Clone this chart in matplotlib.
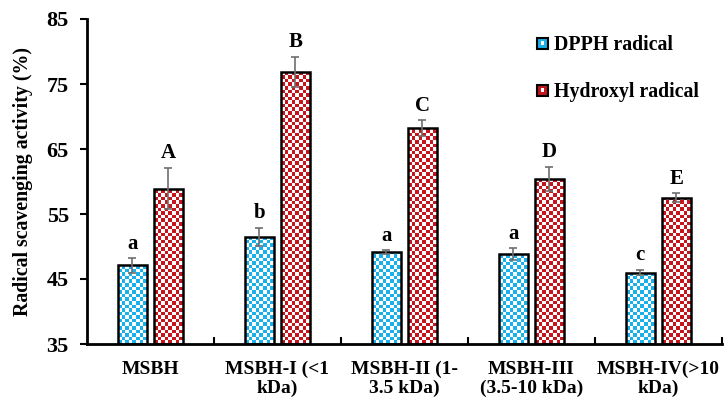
import numpy as np
import matplotlib.pyplot as plt
from matplotlib.patches import Rectangle
from matplotlib.legend_handler import HandlerBase

plt.rcParams['font.family'] = ['Liberation Serif', 'DejaVu Serif']
plt.rcParams['font.weight'] = 'bold'

categories = ["MSBH", "MSBH-I (<1\nkDa)", "MSBH-II (1-\n3.5 kDa)",
              "MSBH-III\n(3.5-10 kDa)", "MSBH-IV(>10\nkDa)"]
dpph = [47.1, 51.5, 49.1, 48.8, 46.0]
dpph_err = [1.1, 1.4, 0.3, 0.9, 0.4]
dpph_letters = ["a", "b", "a", "a", "c"]
hydroxyl = [58.9, 76.9, 68.2, 60.4, 57.5]
hydroxyl_err = [3.2, 2.3, 1.2, 1.9, 0.7]
hydroxyl_letters = ["A", "B", "C", "D", "E"]

blue = "#1ab0ea"
red = "#c4161c"


def checker(ax, bar, color, ncols=8, cell_h=0.55):
    x0, y0 = bar.get_x(), bar.get_y()
    w, h = bar.get_width(), bar.get_height()
    nrows = int(np.ceil(h / cell_h))
    i, j = np.indices((nrows, ncols))
    img = np.ones((nrows, ncols, 3))
    rgb = np.array(plt.matplotlib.colors.to_rgb(color))
    img[(i + j) % 2 == 0] = rgb
    im = ax.imshow(img, extent=(x0, x0 + w, y0, y0 + nrows * cell_h),
                   origin="lower", interpolation="nearest", aspect="auto", zorder=2)
    im.set_clip_path(bar)


class CheckerHandler(HandlerBase):
    def __init__(self, color):
        super().__init__()
        self.color = color

    def create_artists(self, legend, orig_handle, xdescent, ydescent,
                       width, height, fontsize, trans):
        s = height * 0.8
        x0 = -xdescent + (width - s) / 2
        y0 = -ydescent + (height - s) / 2
        outer = Rectangle((x0, y0), s, s, facecolor=self.color,
                          edgecolor="black", lw=1.5, transform=trans)
        inner = Rectangle((x0 + s * 0.33, y0 + s * 0.33), s * 0.34, s * 0.34,
                          facecolor="white", edgecolor="none", transform=trans)
        return [outer, inner]


fig = plt.figure(figsize=(7.24, 4.0), dpi=100)
ax = fig.add_axes([0.120, 0.14, 0.877, 0.8125])

x = np.arange(len(categories))
width = 0.228
off = 0.142

bars1 = ax.bar(x - off, np.array(dpph) - 35, width, bottom=35, facecolor="none",
               edgecolor="black", lw=1.8, zorder=3)
bars2 = ax.bar(x + off, np.array(hydroxyl) - 35, width, bottom=35, facecolor="none",
               edgecolor="black", lw=1.8, zorder=3)
for b in bars1:
    checker(ax, b, blue)
for b in bars2:
    checker(ax, b, red)

ax.errorbar(x - off, dpph, yerr=dpph_err, fmt="none", ecolor="#6e6e6e",
            elinewidth=1.2, capsize=3, capthick=1.2, zorder=4)
ax.errorbar(x + off, hydroxyl, yerr=hydroxyl_err, fmt="none", ecolor="#6e6e6e",
            elinewidth=1.2, capsize=3, capthick=1.2, zorder=4)

for xi, v, e, t in zip(x - off, dpph, dpph_err, dpph_letters):
    ax.text(xi, v + e + 0.7, t, ha="center", va="bottom", fontsize=15, fontweight="bold")
for xi, v, e, t in zip(x + off, hydroxyl, hydroxyl_err, hydroxyl_letters):
    ax.text(xi, v + e + 0.7, t, ha="center", va="bottom", fontsize=15, fontweight="bold")

ax.set_xlim(-0.5, 4.5)
ax.set_ylim(35, 85)
ax.set_yticks([35, 45, 55, 65, 75, 85])
ax.set_xticks(x)
ax.set_xticklabels(categories, fontsize=14, fontweight="bold", linespacing=1.15)
ax.set_xticks(np.arange(0.5, 5, 1), minor=True)
ax.tick_params(axis="x", which="major", length=0, pad=12)
ax.tick_params(axis="x", which="minor", direction="in", length=5, width=1.5)
ax.tick_params(axis="y", direction="out", length=5, width=1.5, labelsize=16, pad=8)
for lab in ax.get_yticklabels():
    lab.set_fontweight("bold")
ax.set_ylabel("Radical scavenging activity (%)", fontsize=14.3, fontweight="bold", labelpad=10)

ax.spines["top"].set_visible(False)
ax.spines["right"].set_visible(False)
ax.spines["left"].set_linewidth(2)
ax.spines["bottom"].set_linewidth(2)

h1 = Rectangle((0, 0), 1, 1)
h2 = Rectangle((0, 0), 1, 1)
leg = ax.legend([h1, h2], ["DPPH radical", "Hydroxyl radical"],
                handler_map={h1: CheckerHandler(blue), h2: CheckerHandler(red)},
                loc="upper left", bbox_to_anchor=(0.68, 1.005), frameon=False,
                labelspacing=1.35, handlelength=0.6, handletextpad=0.3,
                prop={"weight": "bold", "size": 14.3})

fig.savefig("out.png", dpi=100)
